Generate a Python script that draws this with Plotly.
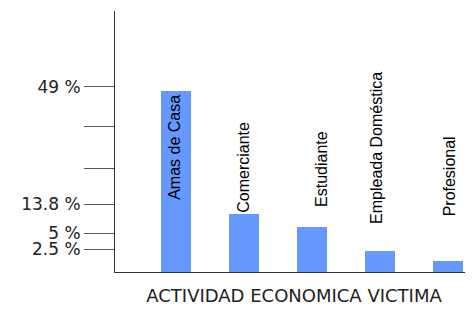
import plotly.graph_objects as go

categories = ["Amas de Casa", "Comerciante", "Estudiante", "Empleada Doméstica", "Profesional"]
values = [49.0, 15.7, 12.3, 5.8, 3.0]

# y-axis tick positions (data units) and their printed labels
tick_vals = [50.2, 39.4, 28.0, 18.4, 10.5, 6.2]
tick_text = ["49 %", "", "", "13.8 %", "5 %", "2.5 %"]

# label centre heights (data units) and horizontal pixel shifts
label_y = [33.9, 28.5, 27.9, 33.6, 25.9]
label_dx = [-1, 0, 9, -3, 1]

x_title = "ACTIVIDAD ECONOMICA VICTIMA"

fig = go.Figure()
fig.add_trace(go.Bar(
    x=categories, y=values, width=0.44,
    marker=dict(color="#6699ff", line=dict(width=0)),
    hoverinfo="skip",
))

for c, ly, dx in zip(categories, label_y, label_dx):
    fig.add_annotation(
        x=c, y=ly, xref="x", yref="y", text=c, showarrow=False,
        textangle=-90, xshift=dx,
        font=dict(family="Liberation Sans", size=16, color="#000000"),
    )

# page body has an 8px margin, so the figure is sized to fit inside the window
fig.update_layout(
    width=465, height=301,
    margin=dict(l=107, r=0, t=3, b=37, autoexpand=False),
    paper_bgcolor="white", plot_bgcolor="white",
    showlegend=False,
    bargap=0,
)
fig.update_xaxes(
    range=[-0.897, 4.368], showticklabels=False, ticks="",
    showgrid=False, zeroline=False, automargin=False,
    showline=True, linecolor="#333333", linewidth=1,
    title=dict(text=x_title, standoff=17,
               font=dict(family="DejaVu Sans", size=18, color="#222222")),
)
fig.update_yaxes(
    range=[0, 70.7], tickmode="array", tickvals=tick_vals, ticktext=tick_text,
    ticks="outside", ticklen=30, tickcolor="#555555", tickwidth=1,
    tickfont=dict(family="DejaVu Sans", size=17, color="#222222"),
    showgrid=False, zeroline=False, automargin=False,
    showline=True, linecolor="#333333", linewidth=1,
)

fig.write_html("out.html")
